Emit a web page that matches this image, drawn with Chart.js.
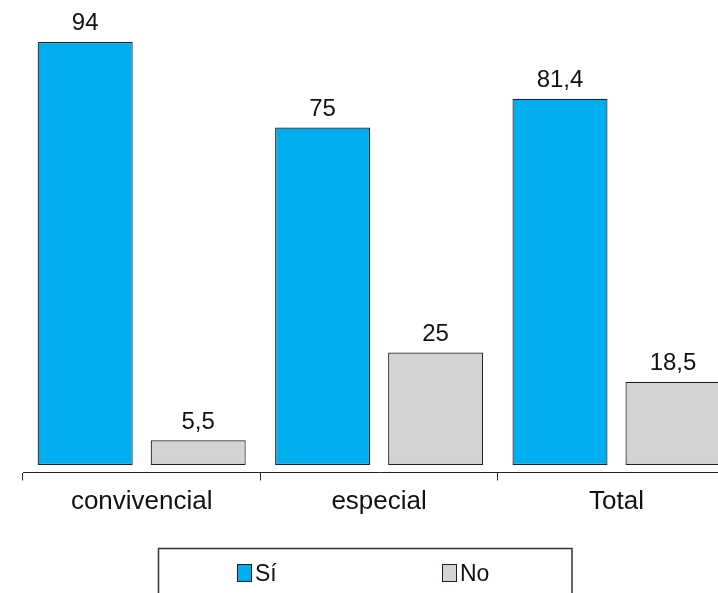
<!DOCTYPE html>
<html>
<head>
<meta charset="utf-8">
<script src="https://cdn.jsdelivr.net/npm/chart.js@4/dist/chart.umd.min.js"></script>
<style>
html,body{margin:0;padding:0;background:#fff;overflow:hidden;width:718px;height:593px;}
#wrap{position:absolute;left:0;top:0;width:760px;height:593px;}
</style>
</head>
<body>
<div id="wrap"><canvas id="c" width="760" height="593"></canvas></div>
<script>
const categories = ['convivencial', 'especial', 'Total'];
const seriesNames = ['Sí', 'No'];
const siValues = [94, 75, 81.4];
const noValues = [5.5, 25, 18.5];

const FONT = '"Liberation Sans", Arial, Helvetica, sans-serif';
const BLUE = '#00AEEF';
const GRAY = '#D1D3D4';
const EDGE = '#231F20';

const valueLabels = {
  id: 'valueLabels',
  afterDatasetsDraw(chart) {
    const ctx = chart.ctx;
    ctx.save();
    ctx.font = '24px ' + FONT;
    ctx.fillStyle = '#111';
    ctx.textAlign = 'center';
    ctx.textBaseline = 'alphabetic';
    chart.data.datasets.forEach((ds, di) => {
      const meta = chart.getDatasetMeta(di);
      meta.data.forEach((bar, i) => {
        const txt = String(ds.data[i]).replace('.', ',');
        ctx.fillText(txt, bar.x, bar.y - 11.5);
      });
    });
    ctx.restore();
  }
};

const legendBox = {
  id: 'legendBox',
  afterDraw(chart) {
    const ctx = chart.ctx;
    ctx.save();
    ctx.strokeStyle = '#333';
    ctx.lineWidth = 1.5;
    ctx.strokeRect(158.5, 548.5, 413.5, 60);
    const items = [
      {x: 237, color: BLUE, label: seriesNames[0]},
      {x: 442, color: GRAY, label: seriesNames[1]}
    ];
    ctx.font = '23px ' + FONT;
    ctx.textBaseline = 'alphabetic';
    ctx.textAlign = 'left';
    items.forEach(it => {
      ctx.fillStyle = it.color;
      ctx.fillRect(it.x + 0.5, 564.5, 14, 17);
      ctx.strokeStyle = EDGE;
      ctx.lineWidth = 1;
      ctx.strokeRect(it.x + 0.5, 564.5, 14, 17);
      ctx.fillStyle = '#111';
      ctx.fillText(it.label, it.x + 18, 581);
    });
    ctx.restore();
  }
};

new Chart(document.getElementById('c'), {
  type: 'bar',
  data: {
    labels: categories,
    datasets: [
      {label: seriesNames[0], data: siValues, backgroundColor: BLUE, borderColor: EDGE, borderWidth: 1.2, borderSkipped: false,
       categoryPercentage: 0.952, barPercentage: 0.8407},
      {label: seriesNames[1], data: noValues, backgroundColor: GRAY, borderColor: EDGE, borderWidth: 1.2, borderSkipped: false,
       categoryPercentage: 0.952, barPercentage: 0.8407}
    ]
  },
  options: {
    responsive: false,
    animation: false,
    events: [],
    layout: {padding: {left: 23, right: 24.8, top: 10, bottom: 0}},
    plugins: {legend: {display: false}, tooltip: {enabled: false}},
    scales: {
      x: {
        offset: true,
        grid: {display: true, offset: true, drawOnChartArea: false, drawTicks: true, tickLength: 8, color: '#222', lineWidth: 1},
        border: {display: true, color: '#222', width: 1},
        ticks: {font: {family: FONT, size: 26}, color: '#111', padding: 6, maxRotation: 0},
        afterFit: (scale) => { scale.height = 120.5; }
      },
      y: {
        display: false,
        min: -1.667,
        max: 101.11
      }
    }
  },
  plugins: [valueLabels, legendBox]
});
</script>
</body>
</html>
